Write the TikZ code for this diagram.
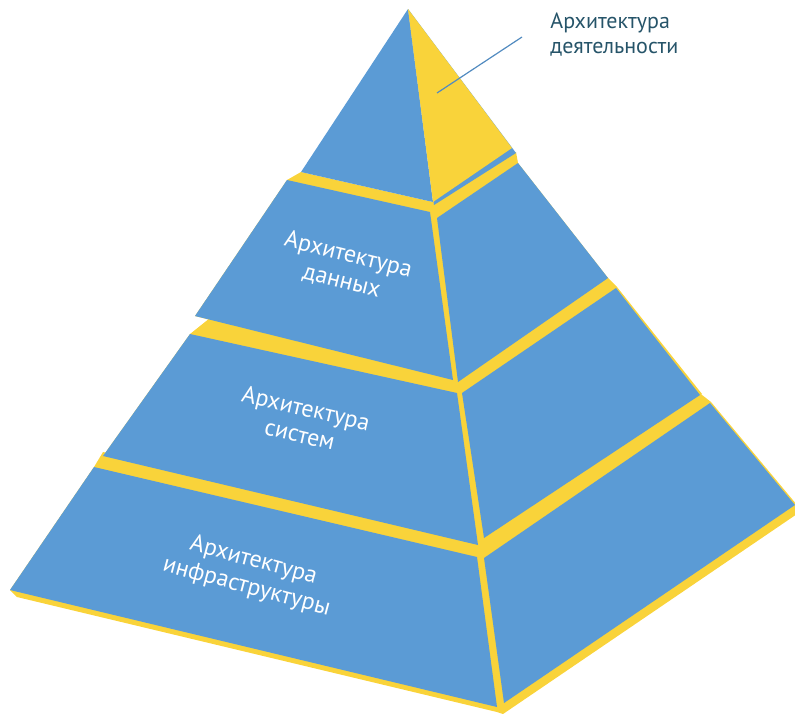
\documentclass[tikz,border=0pt]{standalone}
\usepackage{fontspec}
\setmainfont{PT Sans}
\definecolor{pyrblue}{RGB}{91,155,213}
\definecolor{pyrgold}{RGB}{249,211,58}
\definecolor{captext}{RGB}{38,84,105}

\begin{document}
\begin{tikzpicture}[x=0.5pt, y=-0.5pt,
    tierlabel/.style={text=white, align=center, inner sep=0pt, font=\fontsize{12}{13.5}\selectfont}]
    \useasboundingbox (0,0) rectangle (795,713);

    % ledges, seams and shadow
    \fill[pyrgold] (301,172) -- (433,202) -- (516,152) -- (518,163) -- (608,278) -- (456,384) -- (195,316) -- (287,180) -- cycle;
    \fill[pyrgold] (210,318) -- (455,380) -- (606,276) -- (617,287) -- (702,394) -- (484,540) -- (481,546) -- (103,456) -- (190,334) -- cycle;
    \fill[pyrgold] (103,452) -- (480,540) -- (697,391) -- (711,402) -- (797,505) -- (797,514) -- (503,714) -- (497,712) -- (17,597) -- (10,590) -- (94,467) -- cycle;

    % faces
    \fill[pyrblue] (408,9) -- (301,172) -- (433,202) -- cycle;
    \fill[pyrblue] (408,9) -- (434,205) -- (516,153) -- cycle;
    \fill[pyrgold] (408,9) -- (433,202) -- (512,148) -- cycle;
    \fill[pyrblue] (287,180) -- (430,212) -- (453,380) -- (195,316) -- cycle;
    \fill[pyrblue] (437,218) -- (518,163) -- (608,278) -- (458,382) -- cycle;
    \fill[pyrblue] (190,334) -- (457,393) -- (478,545) -- (103,456) -- cycle;
    \fill[pyrblue] (462,393) -- (616,288) -- (700,395) -- (484,538) -- cycle;
    \fill[pyrblue] (94,467) -- (477,557) -- (497,707) -- (10,590) -- cycle;
    \fill[pyrblue] (484,558) -- (710,403) -- (795,505) -- (504,703) -- cycle;

    \node[tierlabel, rotate=-14] (data) at (345,268) {Архитектура\\данных};
    \node[tierlabel, rotate=-13] (systems) at (303,421) {Архитектура\\систем};
    \node[tierlabel, rotate=-15] (infra) at (250,574) {Архитектура\\инфраструктуры};

    \node[anchor=west, align=left, inner sep=0pt, text=captext, font=\fontsize{11}{12.5}\selectfont] (business) at (550,35) {Архитектура\\деятельности};
    \coordinate (tip) at (437,93);
    \coordinate (tail) at (522,37);
    \draw[pyrblue!90!black, line width=0.6pt] (tip) -- (tail);
\end{tikzpicture}
\end{document}
